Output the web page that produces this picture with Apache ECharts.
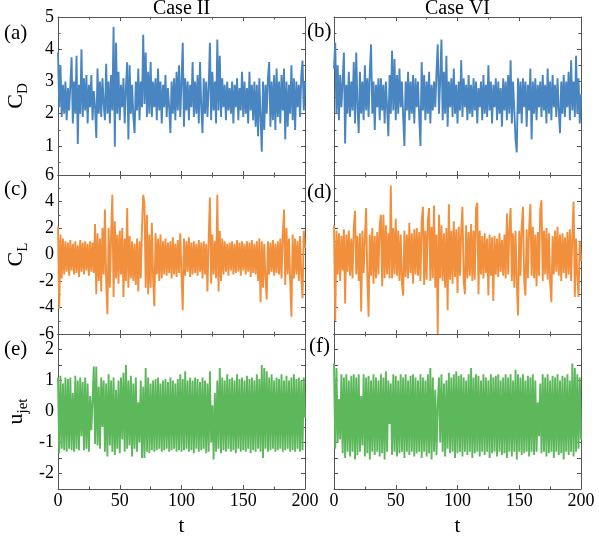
<!DOCTYPE html>
<html><head><meta charset="utf-8">
<script src="https://cdn.jsdelivr.net/npm/echarts@6/dist/echarts.min.js"></script>
<style>html,body{margin:0;padding:0;background:#fff}#c{width:599px;height:538px}</style>
</head><body><div id="c"></div>
<script>
// time axis: one sample per unit t, 0..200
const tStart = 0, tStep = 1;
const xTickLabels = [0, 50, 100, 150, 200];

const cdCaseII = [
3.9,2.2,3.5,1.9,2.9,2.0,3.0,1.8,2.8,2.1,
2.9,3.75,1.7,3.0,2.0,3.8,1.06,2.9,2.0,4.0,
1.9,3.1,2.1,3.2,1.7,2.9,2.2,3.2,1.8,2.7,
2.2,1.25,3.4,2.0,3.0,1.9,3.1,2.3,1.8,3.55,
2.0,3.0,1.7,3.2,2.1,4.7,0.98,4.2,2.0,3.3,
1.8,2.9,2.2,3.1,1.7,2.8,3.6,1.2,3.5,2.0,
2.9,1.9,1.4,3.0,2.1,3.4,1.8,3.0,2.2,4.45,
2.3,3.9,1.9,3.3,2.0,3.6,1.9,3.0,2.2,3.1,
1.8,3.4,2.1,3.0,1.7,2.9,2.2,3.2,1.9,2.8,
2.2,1.4,3.0,2.0,3.1,1.8,3.3,2.1,3.5,1.9,
3.0,4.2,1.6,3.1,2.1,3.0,1.8,2.9,2.2,3.6,
1.9,3.0,2.0,3.2,1.7,3.6,2.2,1.4,3.1,2.0,
3.0,1.9,2.8,4.2,1.8,3.3,2.1,3.0,1.7,4.3,
2.1,3.8,1.9,3.1,2.2,2.9,1.8,3.0,2.1,2.8,
2.0,3.0,1.7,2.9,2.2,3.1,1.8,2.8,2.1,3.3,
1.9,3.0,2.0,2.8,1.7,3.3,2.1,2.9,1.8,3.0,
1.6,2.9,1.3,3.1,1.9,0.82,3.0,1.5,2.9,2.0,
3.1,3.6,1.6,3.0,1.8,3.2,1.5,3.4,1.9,3.0,
1.7,3.2,2.1,3.4,1.2,3.0,1.6,2.9,2.0,3.5,
1.8,3.1,1.5,3.0,2.2,2.9,1.9,3.2,3.65,2.1,
3.0];

const cdCaseVI = [
3.4,4.2,2.0,3.5,1.8,3.2,2.2,3.0,3.9,1.08,
2.9,2.0,3.3,1.9,3.0,2.1,3.6,1.7,3.9,2.2,
1.4,3.3,2.0,3.0,1.8,3.5,2.1,3.1,1.9,3.3,
4.15,2.0,3.0,1.5,2.9,2.2,3.1,1.8,3.1,2.1,
2.9,1.7,3.0,2.2,1.3,3.2,2.0,3.95,2.1,3.7,
1.8,3.2,2.0,3.4,2.2,3.0,1.9,1.0,3.0,2.1,
3.3,1.8,3.0,2.0,3.2,1.7,3.1,2.2,3.0,1.9,
1.0,3.6,2.1,3.2,1.8,3.0,2.0,3.3,1.7,2.9,
2.1,3.0,2.2,3.3,4.15,2.0,3.1,4.3,1.8,3.3,
2.0,3.8,1.6,3.0,2.2,3.1,1.9,3.4,2.0,2.9,
1.7,3.0,2.1,3.66,1.9,3.1,2.2,2.9,1.8,3.2,
2.0,2.9,1.9,3.1,2.1,3.0,1.7,2.8,2.2,3.0,
1.8,3.2,2.0,2.9,1.9,3.5,2.1,3.0,1.7,2.9,
2.2,3.1,1.8,3.0,2.0,2.8,1.6,3.1,2.1,3.0,
1.8,3.2,2.0,3.66,1.7,3.0,2.1,1.2,0.8,3.1,
2.0,3.0,1.7,3.1,2.2,3.0,1.6,2.9,2.1,3.4,
1.2,3.0,2.0,3.1,1.8,2.9,2.2,3.0,1.9,3.2,
2.1,2.9,1.7,3.4,2.0,3.0,1.8,3.2,2.2,2.9,
1.9,3.1,2.1,1.4,3.0,2.0,3.2,1.9,3.0,2.2,
3.3,1.8,3.66,2.1,3.0,1.9,3.8,2.0,3.1,1.7,
2.6];

const clCaseII = [
2.1,-4.1,1.5,-1.8,1.2,-1.5,1.0,-1.3,0.9,-1.6,
1.1,-1.2,0.8,-1.5,1.0,-1.4,0.7,-1.7,1.1,-1.3,
0.9,-1.5,1.0,-1.2,0.8,-1.6,1.0,-1.3,0.9,-1.4,
2.3,-3.0,1.6,-2.0,1.2,-2.8,2.0,-1.5,3.4,-2.0,
-4.5,2.0,-2.5,1.5,4.5,-3.2,2.5,-1.8,1.5,-2.2,
1.8,-1.5,2.0,-3.2,1.2,-2.0,3.5,-2.5,1.4,-1.8,
1.0,-2.0,0.8,-2.3,1.2,-2.8,1.0,-1.8,2.0,4.5,
3.9,-2.5,3.0,-3.0,1.5,-2.5,2.4,-1.8,-3.9,1.6,
-1.5,1.2,-2.0,1.5,-1.8,1.0,-1.5,1.2,-1.6,0.9,
-1.4,1.0,-1.8,1.3,-1.5,0.8,-1.7,1.1,-1.4,1.6,
-1.5,-4.2,1.2,-1.6,1.0,-1.3,1.3,-1.7,0.9,-1.5,
1.0,-1.4,0.8,-1.6,1.1,-1.3,0.9,-1.8,1.0,-1.5,
0.8,-2.8,1.2,4.3,-2.2,1.5,-1.5,1.0,-1.8,4.5,
-2.8,1.8,-2.0,1.2,-1.5,1.0,-1.3,0.8,-1.6,0.9,
-1.2,1.0,-1.5,0.8,-1.4,1.1,-1.3,0.9,-1.6,1.0,
-1.2,0.8,-1.5,1.0,-1.3,0.9,-1.7,1.1,-1.4,0.8,
-1.5,1.0,-2.0,1.2,-3.6,1.0,-2.5,0.8,-1.8,-3.4,
1.0,-1.5,0.9,-1.3,1.1,-1.6,0.8,-1.4,1.0,-1.5,
1.2,-1.8,1.5,3.4,-2.3,2.0,-1.5,1.2,-2.0,-4.7,
1.5,-1.8,1.2,-1.5,1.0,-2.0,1.4,-1.7,-3.3,1.8,
0.5];

const clCaseVI = [
2.2,-5.0,1.8,-1.5,1.6,-2.0,1.4,-1.2,1.9,-3.7,
1.5,-1.3,1.8,-1.6,1.2,-1.8,2.0,3.3,-1.5,1.4,
-2.0,1.6,-4.3,1.8,-1.4,1.2,3.5,-1.8,-4.7,1.5,
-1.6,2.0,-2.2,1.4,-1.8,1.7,-1.5,2.2,3.0,-2.4,
3.0,-1.8,2.2,-1.5,1.6,-1.8,5.2,-1.8,2.0,-1.5,
2.7,-1.6,1.8,-2.0,1.5,-2.2,-3.1,1.8,-1.7,1.5,
-1.8,2.4,-1.4,1.6,-2.2,1.9,-1.5,2.0,-1.6,1.7,
-2.0,2.5,3.6,-2.3,1.8,-1.9,2.6,3.5,-2.0,2.1,
-1.8,3.7,-2.5,1.5,-6.0,3.0,-1.8,2.2,-2.0,1.6,
-2.5,2.0,-4.2,3.8,-1.9,1.8,-2.2,2.5,-1.7,1.9,
-2.9,2.1,-1.6,1.8,3.6,-2.0,-3.0,2.2,-1.8,1.7,
-1.6,2.3,-2.0,1.8,-1.9,3.5,3.9,-3.0,1.8,-1.5,
1.4,-1.8,1.6,-1.4,1.2,-3.1,1.5,-1.6,1.3,-3.5,
1.4,-1.5,1.2,-1.7,1.6,-1.3,1.1,-1.6,1.5,-1.8,
3.1,-1.5,2.0,3.5,-2.0,1.6,-2.5,1.8,-2.2,-4.6,
1.8,-1.6,2.2,3.6,-2.0,-3.1,1.9,-1.8,2.0,3.8,
-1.6,2.1,-1.8,1.5,-2.4,1.7,-1.6,3.4,4.1,-2.0,
1.8,-1.5,2.0,-1.9,1.6,-2.1,-3.6,1.4,-1.5,1.8,
-1.3,2.1,-1.6,1.5,-2.0,1.6,-1.4,1.3,-1.8,1.7,
-1.5,1.9,-2.0,1.5,4.0,-3.2,1.2,-1.6,-3.2,1.0,
-0.5];

const ujetCaseII = [
1.1,-1.35,1.15,-1.2,0.9,-1.25,1.1,-1.3,1.05,-1.2,
1.1,-1.25,0.6,-1.3,1.15,-1.2,1.0,-1.25,1.1,-0.8,
0.95,-1.25,1.1,-1.2,0.9,-1.3,0.5,-0.6,0.4,1.45,
-1.05,1.45,-1.1,0.8,-1.2,1.1,-0.5,1.0,-1.3,0.9,
-1.45,1.2,-1.1,1.0,-1.3,1.1,-1.4,0.7,-1.2,1.0,
-1.35,1.1,-0.9,1.25,-1.3,1.5,-1.2,1.0,-1.1,1.15,
-1.45,0.9,-1.2,1.1,-1.3,0.3,-1.0,1.0,-1.5,0.8,
-1.5,1.4,-1.3,1.1,-1.35,0.9,-1.25,1.0,-1.3,1.05,
-1.25,1.1,-1.2,0.9,-1.3,1.0,-1.25,1.05,-1.2,0.95,
-1.3,1.1,-1.25,1.0,-1.2,0.9,-1.3,1.05,-1.25,1.2,
-1.3,1.05,-1.25,1.3,-1.2,1.0,-1.3,1.1,-1.25,1.0,
-1.35,1.1,-1.2,1.05,-1.3,0.95,-1.25,1.1,-1.2,1.0,
-1.35,0.9,-1.3,1.3,-1.0,0.2,-1.55,0.6,-1.3,1.0,
-1.2,1.4,-1.35,1.1,-1.25,1.0,-1.3,1.2,-1.2,1.05,
-1.3,1.1,-1.25,1.0,-1.35,1.2,-1.2,1.05,-1.3,1.1,
-1.25,1.0,-1.3,1.15,-1.2,1.05,-1.35,1.1,-1.25,1.0,
-1.3,1.2,-1.2,1.05,-1.3,1.5,-1.5,1.4,-1.2,1.3,
-1.3,1.1,-1.25,1.2,-1.2,1.0,-1.3,1.1,-1.25,1.05,
-1.2,1.2,-1.3,1.0,-1.25,1.15,-1.2,1.0,-1.3,1.1,
-1.25,1.2,-1.3,1.05,-1.2,1.1,-1.3,1.0,-1.25,1.1,
-0.2];

const ujetCaseVI = [
1.55,-1.2,1.4,-1.0,0.4,-0.9,1.2,-1.35,1.1,-1.5,
1.2,-1.3,1.0,-1.45,1.15,-1.3,1.2,-1.55,1.1,-1.4,
1.2,-1.3,0.5,-1.1,1.2,-1.45,1.1,-1.35,1.15,-1.55,
1.0,-1.3,1.2,-1.4,1.1,-1.3,1.0,-1.45,1.2,-1.35,
1.1,-1.55,1.3,-1.3,1.0,-0.4,0.9,-1.4,1.2,-1.3,
1.15,-1.45,1.0,-1.35,1.2,-1.3,1.1,-1.5,1.2,-1.3,
1.0,-1.4,1.15,-1.3,1.2,-1.45,1.1,-1.35,1.0,-1.3,
1.2,-1.5,1.1,-1.3,1.0,-1.45,1.2,-1.35,1.4,-1.55,
1.1,-1.3,0.7,-1.4,0.2,1.1,-1.0,1.2,-1.3,0.9,
-1.45,1.0,-1.2,1.25,-1.35,1.1,-1.3,1.2,-1.5,1.3,
-1.35,1.15,-1.3,1.2,-1.45,1.1,-1.3,1.0,-1.4,1.2,
-1.3,1.4,-1.5,1.1,-1.35,1.2,-1.3,1.15,-1.45,1.0,
-1.3,1.2,-1.4,1.1,-1.3,1.0,-1.5,1.2,-1.35,1.1,
-1.3,1.15,-1.45,1.2,-1.3,1.0,-1.4,1.1,-1.35,1.2,
-1.5,1.1,-1.3,1.2,-1.45,1.0,-1.3,1.35,-1.55,1.2,
-1.3,1.1,-1.4,1.2,-1.35,1.0,-1.3,1.15,-1.45,1.1,
-1.3,1.2,-1.4,1.0,-1.3,0.3,-0.8,0.9,-1.35,1.2,
-1.3,1.1,-1.45,1.2,-1.35,1.0,-1.3,1.15,-1.5,1.1,
-1.3,1.2,-1.4,1.0,-1.35,1.15,-1.55,1.1,-1.3,1.2,
-1.4,1.0,-1.3,1.55,-1.45,1.4,-1.3,1.2,-1.2,1.1,
-0.9];

const caseTitles = ['Case II', 'Case VI'];
const panelLetters = ['(a)','(b)','(c)','(d)','(e)','(f)'];
const cdTickLabels = [1,2,3,4,5];
const clTickLabels = [-6,-4,-2,0,2,4,6];
const ujetTickLabels = [-2,-1,0,1,2];

const FONT = "'Liberation Serif','Times New Roman',serif";
const AX = '#555';
const colors = ['#4885c1', '#f28f3c', '#5db85c'];

const rows = [
  {series:[cdCaseII, cdCaseVI], min:0.1, max:5, interval:null, ticks:cdTickLabels, name:'{m|C}{s|D}', color:colors[0]},
  {series:[clCaseII, clCaseVI], min:-6, max:6, interval:2, ticks:clTickLabels, name:'{m|C}{s|L}', color:colors[1]},
  {series:[ujetCaseII, ujetCaseVI], min:-2.5, max:2.5, interval:0.5, ticks:ujetTickLabels, name:'{m|u}{s|jet}', color:colors[2]}
];
const lefts = [58, 334], tops = [17, 175, 334], heights = [158, 159, 158], W = 247;

const grid = [], xAxis = [], yAxis = [], series = [];
rows.forEach((r, ri) => {
  [0,1].forEach(ci => {
    const gi = ri*2 + ci;
    grid.push({left: lefts[ci], top: tops[ri], width: W, height: heights[ri], containLabel:false});
    const tickCommon = {inside:true, length:4, lineStyle:{color:AX, width:1}};
    const minorCommon = {show:true, splitNumber:2, length:2.5, lineStyle:{color:AX, width:1}};
    const lineCommon = {show:true, onZero:false, lineStyle:{color:AX, width:1}};
    const bottom = ri === 2;
    xAxis.push({type:'value', gridIndex:gi, min:0, max:200, interval:50, position:'bottom',
      axisLine:lineCommon, axisTick:tickCommon, minorTick:minorCommon,
      splitLine:{show:false}, minorSplitLine:{show:false},
      axisLabel:{show:bottom, fontFamily:FONT, fontSize:18, color:'#000', margin:3,
        formatter: v => xTickLabels.includes(v) ? String(v) : ''},
      name: bottom ? 't' : '', nameLocation:'middle', nameGap:27,
      nameTextStyle:{fontFamily:FONT, fontSize:21, color:'#000'}});
    xAxis.push({type:'value', gridIndex:gi, min:0, max:200, interval:50, position:'top',
      axisLine:lineCommon, axisTick:tickCommon, minorTick:minorCommon,
      splitLine:{show:false}, minorSplitLine:{show:false}, axisLabel:{show:false}});
    const yBase = {type:'value', gridIndex:gi, min:r.min, max:r.max,
      axisLine:lineCommon, axisTick:tickCommon,
      splitLine:{show:false}, minorSplitLine:{show:false}};
    if (r.interval) yBase.interval = r.interval; else yBase.splitNumber = 5;
    const yMinor = ri === 2 ? {show:false} : minorCommon;
    yAxis.push(Object.assign({}, yBase, {position:'left', minorTick:yMinor,
      axisLabel:{show: ci === 0, fontFamily:FONT, fontSize:18, color:'#000', margin:4,
        showMinLabel: ri !== 0,
        formatter: v => r.ticks.some(k => Math.abs(k - v) < 1e-9) ? String(v) : ''},
      name: ci === 0 ? r.name : '', nameLocation:'middle', nameGap:27, nameRotate:90,
      nameTextStyle:{fontFamily:FONT, color:'#000',
        rich:{m:{fontFamily:FONT, fontSize:22, color:'#000', lineHeight:30, verticalAlign:'middle'},
              s:{fontFamily:FONT, fontSize:15, color:'#000', verticalAlign:'bottom'}}}}));
    yAxis.push(Object.assign({}, yBase, {position:'right', minorTick:yMinor, axisLabel:{show:false}}));
    series.push({type:'line', xAxisIndex: gi*2, yAxisIndex: gi*2,
      data: r.series[ci].map((v, i) => [tStart + i*tStep, v]),
      showSymbol:false, symbol:'none', lineStyle:{color:r.color, width:1.9}, color:r.color,
      animation:false, clip:true});
  });
});

const graphic = [];
caseTitles.forEach((t, ci) => graphic.push({type:'text', x: lefts[ci] + W/2, y: 9,
  style:{text:t, font:`20px ${FONT}`, fill:'#000', align:'center', verticalAlign:'middle'}}));
const letterPos = [[4,33],[307,31],[4,189],[307,192],[4,349],[309,346]];
panelLetters.forEach((l, i) => graphic.push({type:'text', x: letterPos[i][0], y: letterPos[i][1],
  style:{text:l, font:`21px ${FONT}`, fill:'#000', align:'left', verticalAlign:'middle'}}));

const chart = echarts.init(document.getElementById('c'), null, {renderer:'canvas'});
chart.setOption({animation:false, backgroundColor:'#fff', grid, xAxis, yAxis, series, graphic});
</script></body></html>
